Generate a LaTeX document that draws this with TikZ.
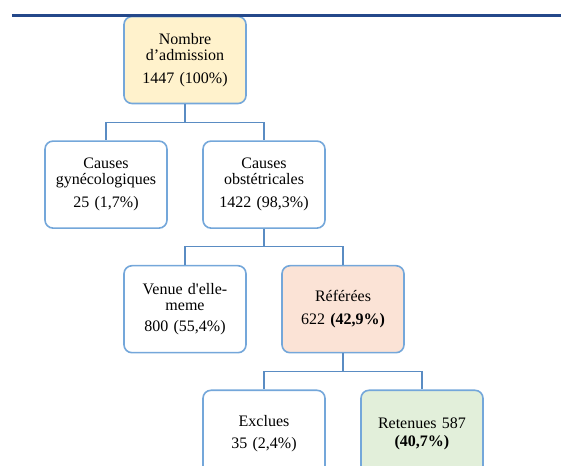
\documentclass[tikz,border=0pt]{standalone}
\usepackage{fontspec}
\setmainfont{Liberation Serif}
\usepackage{xcolor}
\usepackage{tikz}
\usetikzlibrary{positioning}
\definecolor{rulenavy}{HTML}{24488A}
\definecolor{edge}{HTML}{74A7DA}
\definecolor{linkc}{HTML}{5A8CC3}
\definecolor{fillyel}{HTML}{FFF2CC}
\definecolor{fillpeach}{HTML}{FBE3D6}
\definecolor{fillgreen}{HTML}{E2EFDA}
\tikzset{
  box/.style  ={draw=edge, line width=1.2pt, rounded corners=6pt, fill=white,
                minimum height=65.25pt, text width=85pt, inner xsep=3.25pt,
                inner ysep=0pt, align=center,
                font=\fontsize{12pt}{12pt}\selectfont},
  boxy/.style ={box, fill=fillyel},
  boxp/.style ={box, fill=fillpeach},
  boxg/.style ={box, fill=fillgreen},
  link/.style ={draw=linkc, line width=1pt}
}
\begin{document}
\begin{tikzpicture}[node distance=27pt]
  \useasboundingbox (-138.75pt,45pt) rectangle (282pt,-304.5pt);
  \clip (-138.75pt,45pt) rectangle (282pt,-304.5pt);

  \node[boxy] (adm) {Nombre\\d’admission\\[5pt]1447 (100\%)};

  \node[box, below=of adm, xshift=-59.25pt] (gyn)  {Causes\\gynécologiques\\[5pt]25 (1,7\%)};
  \node[box, below=of adm, xshift=59.25pt]  (obst) {Causes\\obstétricales\\[5pt]1422 (98,3\%)};

  \node[box,  below=of obst, xshift=-59.25pt] (venue) {Venue d\textquotesingle elle-\\meme\\[4pt]800 (55,4\%)};
  \node[boxp, below=of obst, xshift=59.25pt]  (ref)   {Référées\\[5pt]622 \textbf{(42,9\%)}};

  \node[box,  below=of ref, xshift=-59.25pt] (excl) {Exclues\\[5pt]35 (2,4\%)};
  \node[boxg, below=of ref, xshift=59.25pt]  (ret)  {Retenues 587\\[1pt]\textbf{(40,7\%)}};

  \coordinate (ruleL) at (-129.75pt,33.4pt);
  \coordinate (ruleR) at (282pt,33.4pt);
  \draw[rulenavy, line width=1.6pt] (ruleL) -- (ruleR);

  \draw[link] (adm.south) -- ++(0,-13.5pt) -| (gyn.north);
  \draw[link] (adm.south) -- ++(0,-13.5pt) -| (obst.north);
  \draw[link] (obst.south) -- ++(0,-13pt) -| (venue.north);
  \draw[link] (obst.south) -- ++(0,-13pt) -| (ref.north);
  \draw[link] (ref.south) -- ++(0,-13.5pt) -| (excl.north);
  \draw[link] (ref.south) -- ++(0,-13.5pt) -| (ret.north);
\end{tikzpicture}
\end{document}
